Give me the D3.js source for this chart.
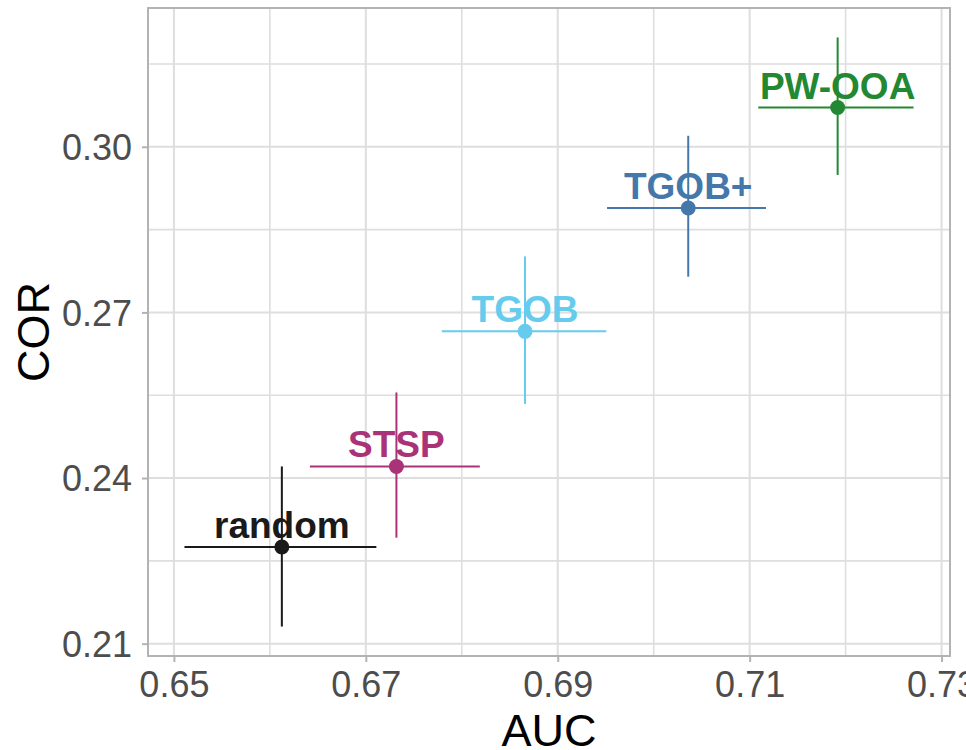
<!DOCTYPE html>
<html>
<head>
<meta charset="utf-8">
<script src="https://cdn.jsdelivr.net/npm/d3@7"></script>
<style>
  html, body { margin: 0; padding: 0; background: #ffffff; }
  svg { display: block; font-family: "Liberation Sans", Arial, sans-serif; }
</style>
</head>
<body>
<svg id="chart" width="966" height="750"></svg>
<script>
// ---- data ----
const methods   = ["random", "STSP", "TGOB", "TGOB+", "PW-OOA"];
const auc       = [0.66125, 0.67319, 0.68659, 0.70360, 0.71917];
const aucLow    = [0.65110, 0.66417, 0.67792, 0.69514, 0.71090];
const aucHigh   = [0.67110, 0.68188, 0.69506, 0.71170, 0.72708];
const cor       = [0.22750, 0.24210, 0.26657, 0.28890, 0.30710];
const corLow    = [0.21310, 0.22920, 0.25343, 0.27647, 0.29490];
const corHigh   = [0.24210, 0.25550, 0.28014, 0.30199, 0.31980];
const colors    = ["#1A1A1A", "#AA3377", "#66CCEE", "#4477AA", "#228833"];
const xMajor    = [0.65, 0.67, 0.69, 0.71, 0.73];
const xMinor    = [0.66, 0.68, 0.70, 0.72];
const yMajor    = [0.21, 0.24, 0.27, 0.30];
const yMinor    = [0.225, 0.255, 0.285, 0.315];
const xTitle    = "AUC";
const yTitle    = "COR";

const data = methods.map((m, i) => ({
  name: m, x: auc[i], xl: aucLow[i], xh: aucHigh[i],
  y: cor[i], yl: corLow[i], yh: corHigh[i], color: colors[i]
}));

// ---- layout ----
const W = 966, H = 750;
const margin = { left: 148, right: 16, top: 8, bottom: 94 };
const pw = W - margin.left - margin.right;
const ph = H - margin.top - margin.bottom;

// ggplot-style 5% expansion
function expand(lo, hi) { const r = hi - lo; return [lo - 0.05 * r, hi + 0.05 * r]; }
const xDom = expand(d3.min(aucLow), d3.max(aucHigh));
const yDom = expand(d3.min(corLow), d3.max(corHigh));

const x = d3.scaleLinear().domain(xDom).range([0, pw]);
const y = d3.scaleLinear().domain(yDom).range([ph, 0]);

const svg = d3.select("#chart");
const g = svg.append("g").attr("transform", `translate(${margin.left},${margin.top})`);

// grid
const gridCol = "#DEDEDE";
g.append("g").selectAll("line").data(xMinor).join("line")
  .attr("x1", d => x(d)).attr("x2", d => x(d)).attr("y1", 0).attr("y2", ph)
  .attr("stroke", gridCol).attr("stroke-width", 1.6);
g.append("g").selectAll("line").data(yMinor).join("line")
  .attr("y1", d => y(d)).attr("y2", d => y(d)).attr("x1", 0).attr("x2", pw)
  .attr("stroke", gridCol).attr("stroke-width", 1.6);
g.append("g").selectAll("line").data(xMajor).join("line")
  .attr("x1", d => x(d)).attr("x2", d => x(d)).attr("y1", 0).attr("y2", ph)
  .attr("stroke", gridCol).attr("stroke-width", 2);
g.append("g").selectAll("line").data(yMajor).join("line")
  .attr("y1", d => y(d)).attr("y2", d => y(d)).attr("x1", 0).attr("x2", pw)
  .attr("stroke", gridCol).attr("stroke-width", 2);

// axes
const tickCol = "#B3B3B3", labCol = "#4D4D4D";
const xAxis = g.append("g").attr("transform", `translate(0,${ph})`)
  .call(d3.axisBottom(x).tickValues(xMajor).tickFormat(d3.format(".2f")).tickSize(6).tickPadding(9));
const yAxis = g.append("g")
  .call(d3.axisLeft(y).tickValues(yMajor).tickFormat(d3.format(".2f")).tickSize(6).tickPadding(10));
[xAxis, yAxis].forEach(a => {
  a.select(".domain").remove();
  a.selectAll(".tick line").attr("stroke", tickCol).attr("stroke-width", 2);
  a.selectAll(".tick text").attr("fill", labCol).style("font-size", "36px")
    .style("font-family", '"Liberation Sans", Arial, sans-serif');
});
yAxis.selectAll(".tick text").attr("dy", "0.36em");

// error bars
const pts = g.append("g");
pts.selectAll("line.h").data(data).join("line").attr("class", "h")
  .attr("x1", d => x(d.xl)).attr("x2", d => x(d.xh))
  .attr("y1", d => y(d.y)).attr("y2", d => y(d.y))
  .attr("stroke", d => d.color).attr("stroke-width", 2);
pts.selectAll("line.v").data(data).join("line").attr("class", "v")
  .attr("x1", d => x(d.x)).attr("x2", d => x(d.x))
  .attr("y1", d => y(d.yl)).attr("y2", d => y(d.yh))
  .attr("stroke", d => d.color).attr("stroke-width", 2);
pts.selectAll("circle").data(data).join("circle")
  .attr("cx", d => x(d.x)).attr("cy", d => y(d.y)).attr("r", 7.5)
  .attr("fill", d => d.color);

// labels
pts.selectAll("text").data(data).join("text")
  .attr("x", d => x(d.x)).attr("y", d => y(d.y)).attr("dy", -9)
  .attr("text-anchor", "middle").attr("fill", d => d.color)
  .style("font-size", "37px").style("font-weight", "bold")
  .text(d => d.name);

// panel border
g.append("rect").attr("x", 0).attr("y", 0).attr("width", pw).attr("height", ph)
  .attr("fill", "none").attr("stroke", tickCol).attr("stroke-width", 2);

// titles
svg.append("text").attr("x", margin.left + pw / 2).attr("y", 746)
  .attr("text-anchor", "middle").attr("fill", "#000").style("font-size", "45px").text(xTitle);
svg.append("text").attr("transform", `translate(49,${margin.top + ph / 2}) rotate(-90)`)
  .attr("text-anchor", "middle").attr("fill", "#000").style("font-size", "45px").text(yTitle);
</script>
</body>
</html>
